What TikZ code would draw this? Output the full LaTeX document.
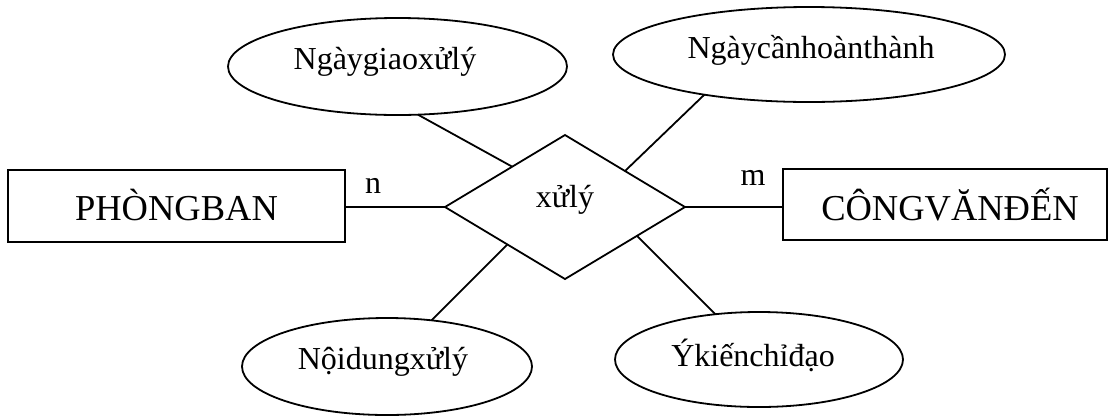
\documentclass[tikz,border=0pt]{standalone}
\usepackage{fontspec}
\setmainfont{Liberation Serif}
\usetikzlibrary{shapes.geometric,calc}
\begin{document}
\begin{tikzpicture}[x=1pt,y=-1pt,
  every node/.style={inner sep=0pt, outer sep=0pt},
  lw/.style={line width=1.8pt},
  bigtext/.style={font=\fontsize{36.5}{40}\selectfont},
  smalltext/.style={font=\fontsize{32}{36}\selectfont},
  entity/.style={draw, lw, rectangle},
  attr/.style={draw, lw, ellipse},
  rel/.style={draw, lw, diamond},
  link/.style={lw}]
\useasboundingbox (0,0) rectangle (1115,416);

% entities
\node[entity, minimum width=337pt, minimum height=72pt,
      label={[bigtext, yshift=1pt]center:PHÒNGBAN}] (pb) at (176.5,206) {};
\node[entity, minimum width=324pt, minimum height=71pt,
      label={[bigtext, xshift=5pt]center:CÔNGVĂNĐẾN}] (cv) at (945,204.5) {};

% relationship
\node[rel, minimum width=240pt, minimum height=144pt,
      label={[smalltext, yshift=7pt]center:xửlý}] (d) at (565,207) {};

% attributes
\node[attr, minimum width=339pt, minimum height=97pt,
      label={[smalltext, xshift=-12.5pt, yshift=4.5pt]center:Ngàygiaoxửlý}] (e1) at (397.5,66.5) {};
\node[attr, minimum width=392pt, minimum height=95pt,
      label={[smalltext, xshift=2pt, yshift=4.5pt]center:Ngàycầnhoànthành}] (e2) at (809,54.5) {};
\node[attr, minimum width=290pt, minimum height=97pt,
      label={[smalltext, xshift=-4pt, yshift=4.5pt]center:Nộidungxửlý}] (e3) at (387,366.5) {};
\node[attr, minimum width=288pt, minimum height=95pt,
      label={[smalltext, xshift=-6pt, yshift=4.5pt]center:Ýkiếnchỉđạo}] (e4) at (759,359.5) {};

% cardinalities
\node[smalltext] (card-n) at (373,186) {n};
\node[smalltext] (card-m) at (753,178) {m};

% connectors
\draw[link] (d.west) -- (d.west -| pb.east);
\draw[link] (d.east) -- (d.east -| cv.west);
\draw[link] (e1.-67) -- ($(d.west)!0.56!(d.north)$);
\draw[link] (e2.-159) -- ($(d.north)!0.5!(d.east)$);
\draw[link] (e3.46) -- ($(d.west)!0.52!(d.south)$);
\draw[link] (e4.134) -- ($(d.south)!0.6!(d.east)$);
\end{tikzpicture}
\end{document}
